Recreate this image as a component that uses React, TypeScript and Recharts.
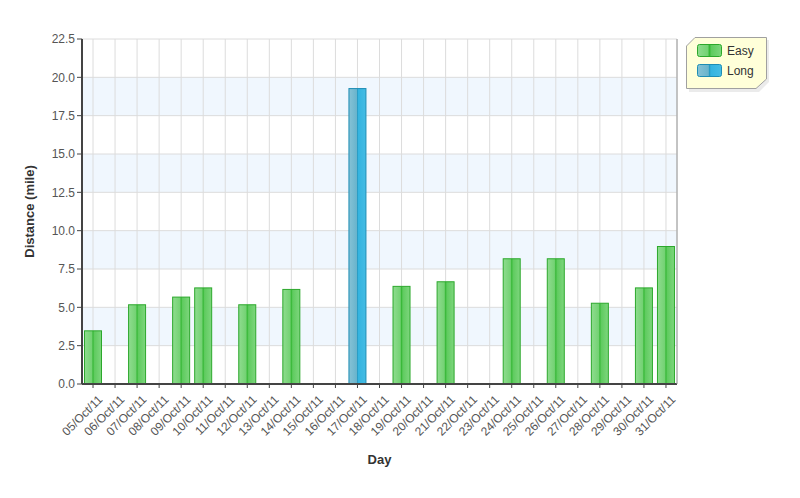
import React from "react";
import {
  BarChart,
  Bar,
  XAxis,
  YAxis,
  CartesianGrid,
  Legend,
  Label,
} from "recharts";

// run log, October 2011
const DAYS = [
  "05/Oct/11", "06/Oct/11", "07/Oct/11", "08/Oct/11", "09/Oct/11", "10/Oct/11",
  "11/Oct/11", "12/Oct/11", "13/Oct/11", "14/Oct/11", "15/Oct/11", "16/Oct/11",
  "17/Oct/11", "18/Oct/11", "19/Oct/11", "20/Oct/11", "21/Oct/11", "22/Oct/11",
  "23/Oct/11", "24/Oct/11", "25/Oct/11", "26/Oct/11", "27/Oct/11", "28/Oct/11",
  "29/Oct/11", "30/Oct/11", "31/Oct/11",
];
const EASY = [
  3.5, null, 5.2, null, 5.7, 6.3, null, 5.2, null, 6.2, null, null, null, null,
  6.4, null, 6.7, null, null, 8.2, null, 8.2, null, 5.3, null, 6.3, 9.0,
];
const LONG = [
  null, null, null, null, null, null, null, null, null, null, null, null, 19.3,
  null, null, null, null, null, null, null, null, null, null, null, null, null, null,
];
const Y_TICKS = [0, 2.5, 5, 7.5, 10, 12.5, 15, 17.5, 20, 22.5];

const data = DAYS.map((day, i) => ({ day, easy: EASY[i], long: LONG[i] }));

const FONT = '"Liberation Sans", Arial, Helvetica, sans-serif';
const TEXT = "#555";
const AXIS = "#444";
const GRID = "#dcdcdc";
const STRIPE = "#f0f7fe";

const SERIES = [
  { key: "easy", name: "Easy", grad: "gEasy", stroke: "#2ca82c" },
  { key: "long", name: "Long", grad: "gLong", stroke: "#1d8db5" },
];

function BarShape(props: any) {
  const { x, y, width, height, fill, stroke } = props;
  if (!height || height <= 0) return null;
  return (
    <rect
      x={x + 0.5}
      y={y + 0.5}
      width={width - 1}
      height={height - 1}
      fill={fill}
      stroke={stroke}
      strokeWidth={1}
    />
  );
}

function XTick({ x, y, payload }: any) {
  return (
    <text
      x={x + 4}
      y={y + 4}
      transform={`rotate(-45 ${x + 4} ${y + 4})`}
      textAnchor="end"
      dominantBaseline="hanging"
      fontSize={12}
      fontFamily={FONT}
      fill={TEXT}
    >
      {payload.value}
    </text>
  );
}

function LegendBox() {
  return (
    <svg width={86} height={56} style={{ display: "block" }}>
      <polygon
        points="10,2 82,2 82,44 72,54 2,54 2,10"
        fill="#000"
        opacity={0.08}
        transform="translate(2,2)"
      />
      <polygon
        points="10,1.5 81.5,1.5 81.5,43 71,52.5 1.5,52.5 1.5,10"
        fill="#ffffd9"
        stroke="#a0a0a0"
      />
      {SERIES.map((s, i) => (
        <g key={s.key}>
          <rect
            x={12.5}
            y={8.5 + i * 20}
            width={24}
            height={12}
            rx={2}
            fill={`url(#${s.grad})`}
            stroke={s.stroke}
          />
          <text
            x={42}
            y={19 + i * 20}
            fontSize={12}
            fontFamily={FONT}
            fill="#333"
          >
            {s.name}
          </text>
        </g>
      ))}
    </svg>
  );
}

export default function App() {
  return (
    <div style={{ position: "absolute", left: 0, top: 0, width: 800, height: 498, background: "#fff" }}>
      <BarChart
        width={800}
        height={498}
        data={data}
        margin={{ top: 39, right: 36, bottom: 0, left: 0 }}
        barSize={18}
      >
        <defs>
          <linearGradient id="gEasy" x1="0" y1="0" x2="1" y2="0">
            <stop offset="0" stopColor="#8fdc8f" />
            <stop offset="0.42" stopColor="#74d274" />
            <stop offset="0.5" stopColor="#38b838" />
            <stop offset="0.58" stopColor="#5fcb5f" />
            <stop offset="1" stopColor="#7ed67e" />
          </linearGradient>
          <linearGradient id="gLong" x1="0" y1="0" x2="1" y2="0">
            <stop offset="0" stopColor="#86c2d6" />
            <stop offset="0.45" stopColor="#6ab4cc" />
            <stop offset="0.5" stopColor="#2a9cc4" />
            <stop offset="0.56" stopColor="#34b4e0" />
            <stop offset="1" stopColor="#45bce4" />
          </linearGradient>
        </defs>
        <CartesianGrid
          stroke={GRID}
          horizontalFill={["#ffffff", STRIPE]}
          fillOpacity={1}
        />
        <XAxis
          dataKey="day"
          interval={0}
          height={114}
          tick={<XTick />}
          tickSize={4}
          tickLine={{ stroke: AXIS }}
          axisLine={{ stroke: AXIS, strokeWidth: 2 }}
        >
          <Label
            value="Day"
            position="insideBottom"
            offset={34}
            style={{ fontFamily: FONT, fontSize: 13, fontWeight: "bold", fill: "#333" }}
          />
        </XAxis>
        <YAxis
          width={82}
          domain={[0, 22.5]}
          ticks={Y_TICKS}
          tickFormatter={(v: number) => v.toFixed(1)}
          tick={{ fontSize: 12, fontFamily: FONT, fill: TEXT }}
          tickSize={5}
          tickLine={{ stroke: AXIS }}
          axisLine={{ stroke: AXIS, strokeWidth: 2 }}
        >
          <Label
            value="Distance (mile)"
            angle={-90}
            position="insideLeft"
            offset={29}
            style={{ fontFamily: FONT, fontSize: 13, fontWeight: "bold", fill: "#333", textAnchor: "middle" }}
          />
        </YAxis>
        <YAxis
          yAxisId="edge"
          orientation="right"
          width={1}
          tick={false}
          tickLine={false}
          axisLine={{ stroke: "#9a9a9a" }}
        />
        <Legend
          layout="vertical"
          verticalAlign="top"
          align="right"
          content={() => <LegendBox />}
          wrapperStyle={{ left: 685, top: 36, width: 86, height: 56 }}
        />
        {SERIES.map((s) => (
          <Bar
            key={s.key}
            dataKey={s.key}
            name={s.name}
            stackId="run"
            fill={`url(#${s.grad})`}
            stroke={s.stroke}
            shape={<BarShape />}
            isAnimationActive={false}
          />
        ))}
      </BarChart>
    </div>
  );
}
